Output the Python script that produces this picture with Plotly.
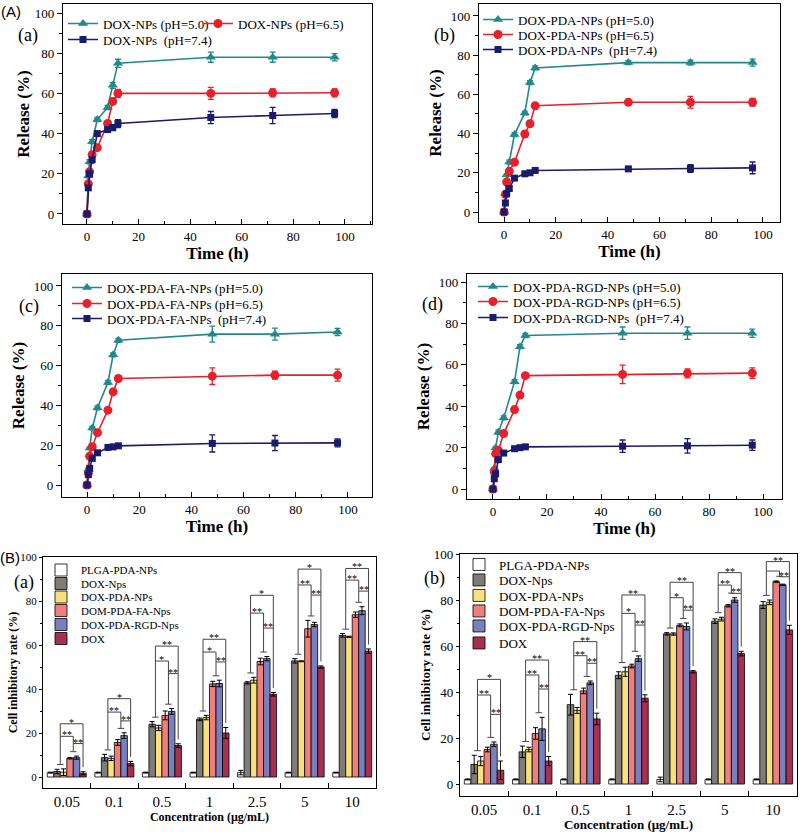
import plotly.graph_objects as go

# ---------------- DATA ----------------
time_h = [0, 0.5, 1, 2, 4, 8, 10, 12, 48, 72, 96]

a_labels = ["DOX-NPs (pH=5.0)", "DOX-NPs (pH=6.5)", "DOX-NPs  (pH=7.4)"]
a_ph50 = [0, 19, 26, 36, 47, 53, 64, 75, 78, 78, 78]
a_ph50_err = [0, 1, 1, 1, 1, 1, 1.5, 2, 2.5, 2.5, 1.8]
a_ph65 = [0, 15, 21, 29.5, 33, 45, 56, 60, 60, 60.3, 60.3]
a_ph65_err = [0, 1, 1, 1, 1, 1, 1.5, 2, 3, 2, 2]
a_ph74 = [0, 13, 20, 27, 40, 42, 43, 45, 48, 49, 50]
a_ph74_err = [0, 1, 1, 1, 1, 1, 1.5, 2, 3, 4, 2]

b_labels = ["DOX-PDA-NPs (pH=5.0)", "DOX-PDA-NPs (pH=6.5)", "DOX-PDA-NPs  (pH=7.4)"]
b_ph50 = [0, 9.5, 19, 25.5, 39.5, 50.5, 66, 73.5, 76.2, 76.2, 76.2]
b_ph50_err = [0, 0.5, 0.5, 1, 1, 1, 1, 1, 1, 1.3, 1.8]
b_ph65 = [0, 9, 15.3, 20.8, 25.4, 39.8, 45, 54.2, 56, 56, 56]
b_ph65_err = [0, 0.5, 0.5, 1, 1, 1, 1, 1, 0.8, 3, 2]
b_ph74 = [0, 4.6, 9.3, 12, 17.3, 19.5, 20, 21.2, 22, 22.2, 22.5]
b_ph74_err = [0, 0.5, 0.5, 1, 0.5, 0.5, 0.5, 0.8, 1, 2, 3]

c_labels = ["DOX-PDA-FA-NPs (pH=5.0)", "DOX-PDA-FA-NPs (pH=6.5)", "DOX-PDA-FA-NPs  (pH=7.4)"]
c_ph50 = [0, 8, 18.6, 28.6, 38.8, 51.5, 65.4, 72.7, 75.8, 75.8, 76.9]
c_ph50_err = [0, 0.5, 0.5, 0.8, 1, 1, 1, 1, 4, 3, 1.8]
c_ph65 = [0, 6, 14.5, 19.3, 26.3, 37.6, 46.8, 53.5, 54.7, 55.2, 55.2]
c_ph65_err = [0, 0.5, 0.5, 0.8, 1, 1, 1, 1, 4.2, 2, 3]
c_ph74 = [0, 5.2, 8.4, 13.4, 16.2, 18.9, 19.2, 19.7, 20.9, 21.1, 21.2]
c_ph74_err = [0, 0.5, 0.5, 0.8, 0.8, 0.8, 0.8, 0.8, 4.3, 3.8, 2]

d_labels = ["DOX-PDA-RGD-NPs (pH=5.0)", "DOX-PDA-RGD-NPs (pH=6.5)", "DOX-PDA-RGD-NPs  (pH=7.4)"]
d_ph50 = [0, 10, 20, 27.5, 34.4, 51.9, 68.8, 74.2, 75.3, 75.3, 75.3]
d_ph50_err = [0, 0.5, 0.5, 1, 1, 1, 1, 1, 3, 3, 2]
d_ph65 = [0, 8.2, 17.1, 18.7, 26.8, 38.4, 45.4, 54.8, 55.4, 55.9, 56]
d_ph65_err = [0, 0.5, 1, 1, 1, 1, 1, 1, 4.5, 2.2, 2.5]
d_ph74 = [0, 5, 7.4, 14.2, 17.4, 19.5, 20, 20.4, 20.7, 20.9, 21.2]
d_ph74_err = [0, 0.5, 0.5, 0.8, 0.8, 0.8, 0.8, 0.8, 3, 3.5, 2.5]

conc = ["0.05", "0.1", "0.5", "1", "2.5", "5", "10"]
bar_names = ["PLGA-PDA-NPs", "DOX-Nps", "DOX-PDA-NPs", "DOM-PDA-FA-Nps", "DOX-PDA-RGD-Nps", "DOX"]

ba_plga = [2, 2, 2, 2, 2, 2, 2]
ba_plga_err = [0.2, 0.2, 0.2, 0.2, 1, 0.2, 0.2]
ba_dox_nps = [2.5, 8.8, 24, 26.2, 42.8, 52.8, 64.4]
ba_dox_nps_err = [1, 1.5, 1.2, 0.6, 0.5, 1, 0.8]
ba_dox_pda = [2.2, 8.5, 22.3, 27, 44, 52.6, 63.7]
ba_dox_pda_err = [1.5, 1, 1.2, 1, 1.3, 0.2, 0.3]
ba_fa = [8.5, 15.7, 28, 42.3, 52.5, 67.4, 73.8]
ba_fa_err = [0.3, 1.3, 2, 1.2, 1.5, 3.8, 1.2]
ba_rgd = [8.8, 18.8, 29.8, 42.5, 53.8, 69.3, 75.6]
ba_rgd_err = [0.7, 1.3, 1.3, 1.5, 1, 1, 1.8]
ba_dox = [1.7, 6.1, 14.3, 20, 37.6, 50, 57.2]
ba_dox_err = [0.7, 1, 0.8, 2.5, 0.8, 0.5, 1]
ba_sig_top = [24.2, 35.6, 59.5, 62.6, 82.6, 94.5, 94.8]
ba_sig_left = [18.5, 29.5, 52.7, 56.8, 74.5, 87.3, 89.5]
ba_sig_right = [15.2, 25.5, 47, 52.3, 67.7, 82.7, 84.5]
ba_star_top = ["*", "*", "**", "**", "*", "*", "**"]
ba_star_left = ["**", "**", "*", "*", "**", "**", "**"]
ba_star_right = ["**", "**", "**", "**", "**", "**", "**"]

bb_plga = [2, 2, 2, 2, 2, 2, 2]
bb_plga_err = [0.2, 0.2, 0.2, 0.2, 1, 0.2, 0.2]
bb_dox_nps = [8.5, 14, 34.5, 47.3, 65.3, 70.8, 77.8]
bb_dox_nps_err = [4, 2.5, 4.5, 1.5, 0.5, 1, 1.5]
bb_dox_pda = [10, 15, 32, 48.8, 65.2, 71.7, 79]
bb_dox_pda_err = [2, 1, 1.3, 2, 0.5, 0.8, 1]
bb_fa = [15, 22, 40.5, 51.3, 69, 77.5, 88]
bb_fa_err = [1, 2.5, 1.2, 0.8, 0.6, 0.5, 0.3]
bb_rgd = [17.3, 24, 44, 54.5, 68.5, 80, 86.6]
bb_rgd_err = [1, 5, 0.8, 1.2, 1.5, 1, 0.3]
bb_dox = [6, 10, 28.3, 37.3, 48.8, 56.7, 67]
bb_dox_err = [4, 2, 2.5, 1.5, 0.5, 1, 2]
bb_sig_top = [45.5, 53.9, 61.9, 82.2, 87.7, 91.9, 96.7]
bb_sig_left = [38.7, 47.4, 55.8, 74.2, 81, 86.5, 92.6]
bb_sig_right = [30.3, 41.3, 52.5, 69.1, 75.6, 82.9, 90.1]
bb_star_top = ["*", "**", "**", "**", "**", "**", "**"]
bb_star_left = ["**", "**", "**", "*", "*", "**", ""]
bb_star_right = ["**", "**", "**", "**", "**", "**", "**"]

# ---------------- STYLE ----------------
W, H = 800, 832
SERIF = "Liberation Serif"
SANS = "Liberation Sans"
line_colors = ["#22898b", "#e5222c", "#1b1b6b"]
line_symbols = ["triangle-up", "circle", "square"]
line_msizes = [9, 9, 7]
bar_colors = ["#ffffff", "#807c79", "#f8e07e", "#f07e7b", "#7a80bf", "#a63050"]
bracket_color = "#444444"


def fx(p):
    return p / W


def fy(p):
    return 1 - p / H


fig = go.Figure()
legend_layouts = {}
legend_count = [0]


def new_legend(text_x, center_y, size):
    legend_count[0] += 1
    n = legend_count[0]
    name = "legend" if n == 1 else f"legend{n}"
    legend_layouts[name] = dict(
        x=fx(text_x - 40), y=fy(center_y - 14.5), xanchor="left", yanchor="top",
        bgcolor="rgba(0,0,0,0)", borderwidth=0,
        font=dict(family=SERIF, size=size, color="black"),
    )
    return name


# ---------------- LINE PANELS ----------------
line_panels = [
    dict(ax="", labels=a_labels,
         series=[(a_ph50, a_ph50_err), (a_ph65, a_ph65_err), (a_ph74, a_ph74_err)],
         leg=[(103, 23), (238, 23), (103, 39)]),
    dict(ax="2", labels=b_labels,
         series=[(b_ph50, b_ph50_err), (b_ph65, b_ph65_err), (b_ph74, b_ph74_err)],
         leg=[(518, 19), (518, 34), (518, 49)]),
    dict(ax="3", labels=c_labels,
         series=[(c_ph50, c_ph50_err), (c_ph65, c_ph65_err), (c_ph74, c_ph74_err)],
         leg=[(107, 287), (107, 303), (107, 318)]),
    dict(ax="4", labels=d_labels,
         series=[(d_ph50, d_ph50_err), (d_ph65, d_ph65_err), (d_ph74, d_ph74_err)],
         leg=[(513, 286), (513, 301), (513, 317)]),
]

for p in line_panels:
    for i, ((vals, errs), lab) in enumerate(zip(p["series"], p["labels"])):
        lg = new_legend(p["leg"][i][0], p["leg"][i][1], 13)
        fig.add_trace(go.Scatter(
            x=time_h, y=vals, name=lab, mode="lines+markers",
            line=dict(color=line_colors[i], width=1.6),
            marker=dict(symbol=line_symbols[i], size=line_msizes[i], color=line_colors[i]),
            error_y=dict(type="data", array=errs, color=line_colors[i], thickness=1.3, width=3),
            xaxis="x" + p["ax"], yaxis="y" + p["ax"], legend=lg, showlegend=True,
        ))

# ---------------- BAR PANELS ----------------
bar_panels = [
    dict(ax="5",
         series=[(ba_plga, ba_plga_err), (ba_dox_nps, ba_dox_nps_err), (ba_dox_pda, ba_dox_pda_err),
                 (ba_fa, ba_fa_err), (ba_rgd, ba_rgd_err), (ba_dox, ba_dox_err)],
         sig=(ba_sig_top, ba_sig_left, ba_sig_right), stars=(ba_star_top, ba_star_left, ba_star_right),
         leg_x=81, leg_y=[570, 583.5, 597, 610.5, 624.5, 638.5], leg_size=11, star_size=10),
    dict(ax="6",
         series=[(bb_plga, bb_plga_err), (bb_dox_nps, bb_dox_nps_err), (bb_dox_pda, bb_dox_pda_err),
                 (bb_fa, bb_fa_err), (bb_rgd, bb_rgd_err), (bb_dox, bb_dox_err)],
         sig=(bb_sig_top, bb_sig_left, bb_sig_right), stars=(bb_star_top, bb_star_left, bb_star_right),
         leg_x=499, leg_y=[564, 579.5, 595, 610.5, 625.5, 642.5], leg_size=13, star_size=10),
]

BARGAP = 0.18
bw = (1 - BARGAP) / 6
offs = [(k - 2.5) * bw for k in range(6)]
shapes = []
annotations = []

for p in bar_panels:
    for k, ((vals, errs), nm) in enumerate(zip(p["series"], bar_names)):
        lg = new_legend(p["leg_x"], p["leg_y"][k], p["leg_size"])
        fig.add_trace(go.Bar(
            x=conc, y=vals, name=nm,
            marker=dict(color=bar_colors[k], line=dict(color="black", width=0.8)),
            error_y=dict(type="data", array=errs, color="black", thickness=1, width=2.5),
            xaxis="x" + p["ax"], yaxis="y" + p["ax"], legend=lg, showlegend=True,
        ))
    tops = [[v + e for v, e in zip(vals, errs)] for vals, errs in p["series"]]
    L3s, L1s, L2s = p["sig"]
    S3s, S1s, S2s = p["stars"]
    xr, yr = "x" + p["ax"], "y" + p["ax"]
    for g in range(len(conc)):
        xA = g + (offs[1] + offs[2]) / 2
        xB = g + (offs[3] + offs[4]) / 2
        xC = g + offs[5]
        bA = max(tops[1][g], tops[2][g]) + 2
        bB = max(tops[3][g], tops[4][g]) + 2
        bC = tops[5][g] + 2
        L3, L1, L2 = L3s[g], L1s[g], L2s[g]
        segs = [
            (g + offs[1], bA, g + offs[2], bA),
            (g + offs[3], bB, g + offs[4], bB),
            (xA, bA, xA, max(L1, L3)),
            (xB, bB, xB, max(L1, L2)),
            (xC, bC, xC, max(L2, L3)),
            (xA, L3, xC, L3),
            (xA, L1, xB, L1),
            (xB, L2, xC, L2),
        ]
        for (x0, y0, x1, y1) in segs:
            shapes.append(dict(type="line", xref=xr, yref=yr, x0=x0, y0=y0, x1=x1, y1=y1,
                               line=dict(color=bracket_color, width=1)))
        for (txt, xm, yl) in [(S3s[g], (xA + xC) / 2, L3), (S1s[g], (xA + xB) / 2, L1),
                              (S2s[g], (xB + xC) / 2, L2)]:
            if txt:
                annotations.append(dict(text=txt, x=xm, y=yl, xref=xr, yref=yr, showarrow=False,
                                        xanchor="center", yanchor="bottom", yshift=-5, borderpad=0,
                                        font=dict(family=SERIF, size=p["star_size"], color="black")))

# ---------------- AXES ----------------
boxes = {
    "": ((63, 4, 372, 224), [-9.3, 110.5], [-5, 104.5]),
    "2": ((479, 4, 780, 222), [-9.7, 106.6], [-5.1, 106.1]),
    "3": ((62, 274, 372, 497), [-9.6, 109.2], [-6, 106]),
    "4": ((467, 274, 782, 499), [-9.6, 107], [-4.8, 103.9]),
    "5": ((43, 557, 376, 788), [-0.5, 6.5], [-5, 100]),
    "6": ((460, 554, 797, 796), [-0.5, 6.5], [-5.2, 100]),
}
ytitle_standoff = {"": 0, "2": 4, "3": 4, "4": 4, "5": 0, "6": 0}

layout_axes = {}
for ax, ((l, t, r, b), xrng, yrng) in boxes.items():
    is_bar = ax in ("5", "6")
    xname = "xaxis" + ax
    yname = "yaxis" + ax
    common = dict(showline=True, linecolor="black", linewidth=1.2, mirror=True,
                  showgrid=False, zeroline=False, automargin=False)
    if is_bar:
        xtick = 15
        ytick = 11 if ax == "5" else 13
        tsize = 12 if ax == "5" else 13
        xa = dict(common, domain=[fx(l), fx(r)], range=xrng, type="category",
                  tickson="boundaries", ticks="inside", ticklen=5, tickcolor="black",
                  tickfont=dict(family=SERIF, size=xtick, color="black"),
                  title=dict(text="<b>Concentration (μg/mL)</b>", standoff=2,
                             font=dict(family=SERIF, size=tsize, color="black")),
                  anchor="y" + ax)
        ya = dict(common, domain=[fy(b), fy(t)], range=yrng, dtick=20, tick0=0,
                  ticks="outside", ticklen=3, tickcolor="black",
                  minor=dict(dtick=10, ticks="outside", ticklen=2, tickcolor="black"),
                  tickfont=dict(family=SERIF, size=ytick, color="black"),
                  title=dict(text="<b>Cell inhibitory rate (%)</b>", standoff=ytitle_standoff[ax],
                             font=dict(family=SERIF, size=tsize, color="black")),
                  anchor="x" + ax)
    else:
        xa = dict(common, domain=[fx(l), fx(r)], range=xrng, dtick=20, tick0=0,
                  ticks="inside", ticklen=5, tickcolor="black",
                  minor=dict(dtick=10, ticks="inside", ticklen=3, tickcolor="black"),
                  tickfont=dict(family=SERIF, size=13, color="black"),
                  title=dict(text="<b>Time (h)</b>", standoff=0,
                             font=dict(family=SERIF, size=17, color="black")),
                  anchor="y" + ax)
        ya = dict(common, domain=[fy(b), fy(t)], range=yrng, dtick=20, tick0=0,
                  ticks="outside", ticklen=5, tickcolor="black",
                  minor=dict(dtick=10, ticks="outside", ticklen=3, tickcolor="black"),
                  tickfont=dict(family=SERIF, size=13, color="black"),
                  title=dict(text="<b>Release (%)</b>", standoff=ytitle_standoff[ax],
                             font=dict(family=SERIF, size=17, color="black")),
                  anchor="x" + ax)
    layout_axes[xname] = xa
    layout_axes[yname] = ya

# panel labels
for txt, x, y, fam, size in [
    ("(A)", 11, 11, SANS, 15), ("(a)", 28, 35, SERIF, 18), ("(b)", 444, 36, SERIF, 18),
    ("(c)", 29, 306, SERIF, 18), ("(d)", 432, 304, SERIF, 18),
    ("(B)", 10, 557, SANS, 15), ("(a)", 24, 582, SERIF, 18), ("(b)", 435, 578, SERIF, 18),
]:
    annotations.append(dict(text=txt, x=fx(x), y=fy(y), xref="paper", yref="paper",
                            showarrow=False, xanchor="center", yanchor="middle",
                            font=dict(family=fam, size=size, color="black")))

fig.update_layout(
    template="none",
    width=W, height=H, margin=dict(l=0, r=0, t=0, b=0, pad=0, autoexpand=False),
    paper_bgcolor="white", plot_bgcolor="white", showlegend=True,
    barmode="group", bargap=BARGAP, bargroupgap=0,
    shapes=shapes, annotations=annotations,
    font=dict(family=SERIF, color="black"),
    **layout_axes, **legend_layouts,
)

fig.write_html("out.html", config={"displayModeBar": False},
               post_script="document.body.style.margin='0';document.body.style.padding='0';")
